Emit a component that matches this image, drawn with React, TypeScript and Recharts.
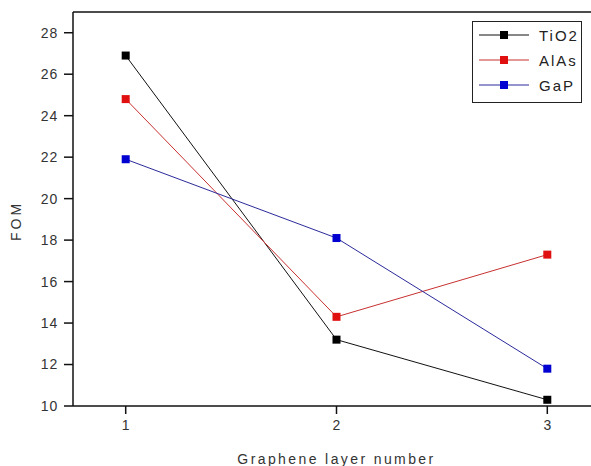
import { LineChart, Line, XAxis, YAxis, ReferenceLine } from "recharts";

const layers = [1, 2, 3];
const tio2 = [26.9, 13.2, 10.3];
const alas = [24.8, 14.3, 17.3];
const gap = [21.9, 18.1, 11.8];
const yTicks = [10, 12, 14, 16, 18, 20, 22, 24, 26, 28];

const series = [
  { key: "tio2", name: "TiO2", line: "#111111", marker: "#000000" },
  { key: "alas", name: "AlAs", line: "#c83030", marker: "#e01010" },
  { key: "gap", name: "GaP", line: "#2a2a9a", marker: "#0000d0" },
];

const data = layers.map((x, i) => ({
  x,
  tio2: tio2[i],
  alas: alas[i],
  gap: gap[i],
}));

const font = "'Liberation Sans', Arial, sans-serif";

function squareDot(color: string) {
  return (props: any) => {
    const { cx, cy, index } = props;
    if (cx == null || cy == null) return null;
    return (
      <rect
        key={`d-${index}`}
        x={cx - 4}
        y={cy - 4}
        width={8}
        height={8}
        fill={color}
      />
    );
  };
}

// axis title drawn at a fixed offset from the left edge of the y axis box
function YLabel(props: any) {
  const { viewBox } = props;
  const x = (viewBox?.x ?? 0) + 16;
  const y = (viewBox?.y ?? 12) + (viewBox?.height ?? 394) / 2 + 12;
  return (
    <text
      x={x}
      y={y}
      transform={`rotate(-90, ${x}, ${y})`}
      textAnchor="middle"
      dominantBaseline="central"
      fill="#333"
      fontSize={14}
      fontFamily={font}
      letterSpacing={3}
    >
      FOM
    </text>
  );
}

function LegendBox() {
  return (
    <div
      style={{
        position: "absolute",
        left: 472,
        top: 21,
        width: 108,
        height: 80,
        border: "1px solid #222",
        background: "#fff",
        fontFamily: font,
        fontSize: 15,
        color: "#222",
      }}
    >
      {series.map((s, i) => (
        <div
          key={s.key}
          style={{
            position: "absolute",
            left: 6,
            top: 4 + i * 25,
            height: 18,
            display: "flex",
            alignItems: "center",
          }}
        >
          <svg width={50} height={18}>
            <line x1={0} y1={9} x2={50} y2={9} stroke={s.line} strokeWidth={1} />
            <rect x={21} y={5} width={8} height={8} fill={s.marker} />
          </svg>
          <span style={{ marginLeft: 10, letterSpacing: 2 }}>{s.name}</span>
        </div>
      ))}
    </div>
  );
}

export default function App() {
  return (
    <div
      style={{
        position: "fixed",
        left: 0,
        top: 0,
        width: 591,
        height: 466,
        overflow: "hidden",
        background: "#fff",
      }}
    >
      <LineChart
        width={620}
        height={466}
        data={data}
        margin={{ top: 12, right: 20, left: 0, bottom: 0 }}
      >
        <XAxis
          dataKey="x"
          type="number"
          domain={[0.75, 3.25]}
          ticks={layers}
          height={60}
          tickSize={8}
          tickMargin={6}
          axisLine={{ stroke: "#111", strokeWidth: 1.5 }}
          tickLine={{ stroke: "#111", strokeWidth: 1.5 }}
          tick={{ fill: "#333", fontSize: 14, fontFamily: font }}
          label={{
            value: "Graphene layer number",
            position: "insideBottom",
            offset: 2,
            fill: "#333",
            fontSize: 14,
            fontFamily: font,
            letterSpacing: 2.4,
          }}
        />
        <YAxis
          type="number"
          domain={[10, 29]}
          ticks={yTicks}
          width={73}
          tickSize={9}
          tickMargin={6}
          axisLine={{ stroke: "#111", strokeWidth: 1.5 }}
          tickLine={{ stroke: "#111", strokeWidth: 1.5 }}
          tick={{ fill: "#333", fontSize: 14, fontFamily: font, letterSpacing: 0.8 }}
          label={<YLabel />}
        />
        <ReferenceLine y={29} stroke="#111" strokeWidth={1.5} />
        {series.map((s) => (
          <Line
            key={s.key}
            dataKey={s.key}
            name={s.name}
            stroke={s.line}
            strokeWidth={1}
            dot={squareDot(s.marker)}
            activeDot={false}
            isAnimationActive={false}
          />
        ))}
      </LineChart>
      <LegendBox />
    </div>
  );
}
